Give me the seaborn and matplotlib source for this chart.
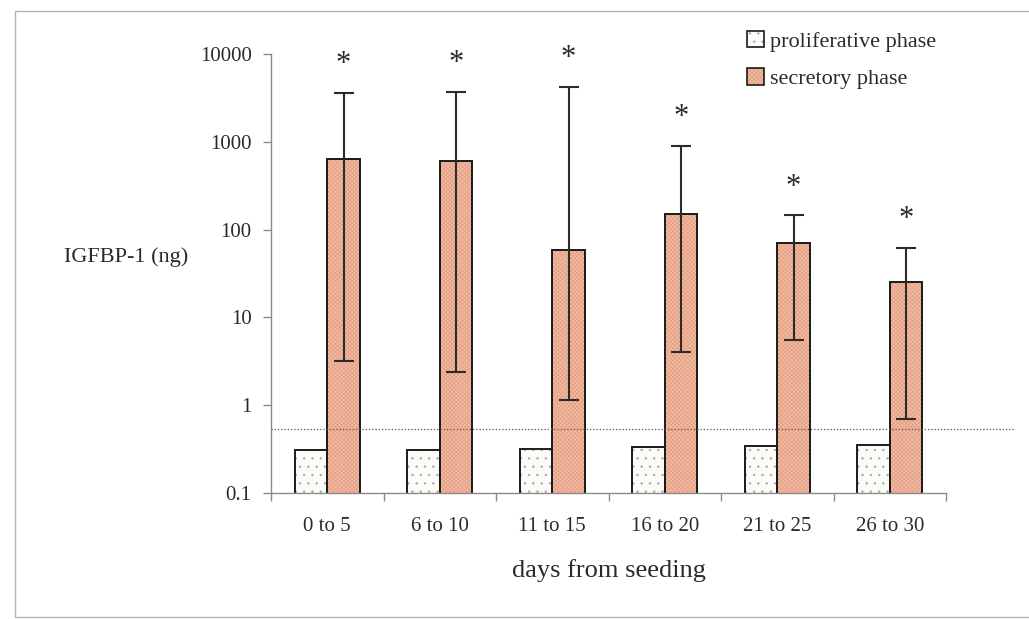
import matplotlib
matplotlib.use("Agg")
import matplotlib.pyplot as plt
import seaborn as sns
import pandas as pd
import numpy as np
from matplotlib.patches import Patch, Rectangle
from matplotlib.ticker import FixedLocator, FixedFormatter, NullLocator
from matplotlib.colors import to_rgba

# ---- data ----
categories = ["0 to 5", "6 to 10", "11 to 15", "16 to 20", "21 to 25", "26 to 30"]
proliferative = [0.31, 0.31, 0.32, 0.33, 0.34, 0.35]
secretory = [640, 600, 58, 150, 70, 25]
secretory_upper = [3600, 3700, 4200, 900, 145, 62]
secretory_lower = [3.2, 2.4, 1.15, 4.0, 5.5, 0.7]
threshold = 0.54
phases = ["proliferative phase", "secretory phase"]
y_ticks = [0.1, 1, 10, 100, 1000, 10000]
y_tick_labels = ["0.1", "1", "10", "100", "1000", "10000"]

df = pd.DataFrame({
    "days": categories * 2,
    "value": proliferative + secretory,
    "phase": [phases[0]] * len(categories) + [phases[1]] * len(categories),
})

sns.set_style("white")
plt.rcParams["font.family"] = ["Liberation Serif", "DejaVu Serif"]
plt.rcParams["hatch.linewidth"] = 0.5

W, H = 1029, 619
fig = plt.figure(figsize=(W / 100, H / 100), dpi=100)
ax = fig.add_axes([271 / W, 1 - 493 / H, (946 - 271) / W, (493 - 54) / H])

prolif_face = "#fbfbf8"
secr_face = "#f2bca4"
prolif_hatch = "#a8a8a8"
secr_hatch = "#e39c80"
text_col = "#2a2a2a"

sns.barplot(data=df, x="days", y="value", hue="phase", order=categories,
            hue_order=phases, palette=[prolif_face, secr_face], width=0.58,
            saturation=1, ax=ax, legend=False, errorbar=None,
            edgecolor="#1a1a1a", linewidth=1.4)
ax.set_yscale("log")

bars = [p for p in ax.patches if isinstance(p, Rectangle)]
n = len(categories)
prolif_bars = sorted(bars[:n], key=lambda p: p.get_x())
secr_bars = sorted(bars[n:2 * n], key=lambda p: p.get_x())


def set_hatch(p, hatch, col):
    p.set_hatch(hatch)
    if hasattr(p, "set_hatchcolor"):
        p.set_hatchcolor(col)
    else:
        p._hatch_color = to_rgba(col)


for p in prolif_bars:
    set_hatch(p, "..", prolif_hatch)
for p in secr_bars:
    set_hatch(p, "xxxxxxxx", secr_hatch)

# error bars on secretory
xs = [p.get_x() + p.get_width() / 2 for p in secr_bars]
sec = np.array(secretory)
yerr = np.vstack([sec - np.array(secretory_lower), np.array(secretory_upper) - sec])
ax.errorbar(xs, sec, yerr=yerr, fmt="none", ecolor="#2b2b2b", elinewidth=1.5,
            capsize=7, capthick=1.5, zorder=5)
for x, u in zip(xs, secretory_upper):
    ax.text(x, u * 2.1, "*", ha="center", va="center", fontsize=22,
            color=text_col)

# dotted threshold line
ax.plot([-0.5, 6.11], [threshold, threshold], linestyle=(0, (1, 1.6)),
        color="#555555", linewidth=0.9, clip_on=False, zorder=4)

ax.set_ylim(0.1, 10000)
ax.set_xlim(-0.5, len(categories) - 0.5)
ax.yaxis.set_major_locator(FixedLocator(y_ticks))
ax.yaxis.set_major_formatter(FixedFormatter(y_tick_labels))
ax.yaxis.set_minor_locator(NullLocator())
ax.set_xticks(range(len(categories)))
ax.set_xticklabels(categories)
ax.set_xticks(np.arange(-0.5, len(categories)), minor=True)

for s in ["top", "right"]:
    ax.spines[s].set_visible(False)
for s in ["left", "bottom"]:
    ax.spines[s].set_color("#8a8a8a")
    ax.spines[s].set_linewidth(1.0)

ax.tick_params(axis="y", which="major", left=True, length=6, width=1,
               color="#8a8a8a", labelsize=15, labelcolor=text_col, pad=8)
ax.tick_params(axis="x", which="major", bottom=False, labelsize=15,
               labelcolor=text_col, pad=14)
ax.tick_params(axis="x", which="minor", bottom=True, length=6, width=1,
               color="#8a8a8a")

ax.set_xlabel("days from seeding", fontsize=19, color=text_col, labelpad=16)
ax.set_ylabel("")
fig.text(126 / W, 1 - 257 / H, "IGFBP-1 (ng)", ha="center", va="center",
         fontsize=16, color=text_col)

handles = [
    Patch(facecolor=prolif_face, edgecolor="#1a1a1a", hatch="..", linewidth=1.2),
    Patch(facecolor=secr_face, edgecolor="#1a1a1a", hatch="xxxxxxxx", linewidth=1.2),
]
for h, c in zip(handles, [prolif_hatch, secr_hatch]):
    set_hatch(h, h.get_hatch(), c)
leg = fig.legend(handles, phases, loc="upper left",
                 bbox_to_anchor=(738 / W, 1 - 22 / H), frameon=False,
                 fontsize=16, handlelength=0.75, handleheight=0.75,
                 handletextpad=0.3, labelspacing=0.75, borderaxespad=0)
for t in leg.get_texts():
    t.set_color(text_col)

# outer frame
fig.patches.append(Rectangle((15 / W, 2 / H), 1 - 15 / W + 0.01, 1 - 11 / H - 2 / H,
                             transform=fig.transFigure, fill=False,
                             edgecolor="#b5b5b5", linewidth=1.0, zorder=-1))

fig.savefig("out.png", dpi=100, facecolor="white")
